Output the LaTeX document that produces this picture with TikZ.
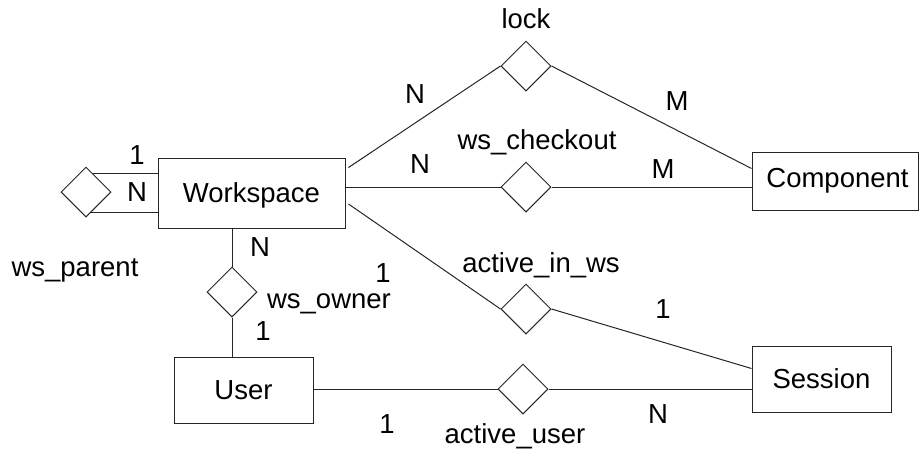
\documentclass[tikz,border=0pt]{standalone}
\usepackage{fontspec}
\setmainfont{Liberation Sans}
\usetikzlibrary{shapes.geometric,calc}
\begin{document}
\begin{tikzpicture}[x=1pt,y=-1pt,
  every node/.style={font=\fontsize{27.5}{32}\selectfont},
  entity/.style={draw=black!85, line width=1pt, rectangle, inner sep=0pt,
    text height=19.7pt, text depth=0pt},
  relation/.style={draw=black!85, line width=1pt, diamond, inner sep=0pt,
    minimum width=50pt, minimum height=50pt},
  lbl/.style={anchor=base, inner sep=0pt},
  conn/.style={draw=black!85, line width=1pt}]
\useasboundingbox (0,0) rectangle (922,451);

% entities
\node[entity, minimum width=187pt, minimum height=70pt] (ws) at (251.5,193) {Workspace};
\node[entity, minimum width=166pt, minimum height=58pt, text depth=6pt] (comp) at (835,181) {\hspace{5pt}Component};
\node[entity, minimum width=139pt, minimum height=66pt] (sess) at (821.5,379) {Session};
\node[entity, minimum width=139pt, minimum height=66pt] (user) at (243.5,390) {User};

% relationships
\node[relation] (parent) at (86,192) {};
\node[relation] (owner) at (232,292) {};
\node[relation] (lock) at (526,66) {};
\node[relation] (checkout) at (526,187) {};
\node[relation] (inws) at (526,309) {};
\node[relation] (auser) at (523,389) {};

% ws_parent (recursive)
\coordinate (pu) at ($(parent.north)!0.28!(parent.east)$);
\coordinate (pl) at ($(parent.south)!0.2!(parent.east)$);
\draw[conn] (pu) -- (pu -| ws.west);
\draw[conn] (pl) -- (pl -| ws.west);

% ws_owner
\draw[conn] (owner.north |- ws.south) -- (owner.north);
\draw[conn] (owner.south) -- (owner.south |- user.north);

% lock
\draw[conn] ($(ws.north east)+(3,10)$) -- (lock.west);
\draw[conn] (lock.east) -- ($(comp.north west)+(0,17)$);

% ws_checkout
\draw[conn] (checkout.west -| ws.east) -- (checkout.west);
\draw[conn] (checkout.east) -- (checkout.east -| comp.west);

% active_in_ws
\draw[conn] ($(ws.east)+(3,11)$) -- (inws.west);
\draw[conn] (inws.east) -- ($(sess.north west)+(0,23)$);

% active_user
\draw[conn] (auser.west -| user.east) -- (auser.west);
\draw[conn] (auser.east) -- (auser.east -| sess.west);

% labels
\node[lbl] (l1) at (137,164) {1};
\node[lbl] (l2) at (137,201) {N};
\node[lbl] (l3) at (75,276) {ws\_parent};
\node[lbl] (l4) at (260,256) {N};
\node[lbl] (l5) at (329,308) {ws\_owner};
\node[lbl] (l6) at (263,340) {1};
\node[lbl] (l7) at (526,28) {lock};
\node[lbl] (l8) at (415,103) {N};
\node[lbl] (l9) at (677,110) {M};
\node[lbl] (l10) at (537,149) {ws\_checkout};
\node[lbl] (l11) at (420,173) {N};
\node[lbl] (l12) at (663,178) {M};
\node[lbl] (l13) at (541,272) {active\_in\_ws};
\node[lbl] (l14) at (383,282) {1};
\node[lbl] (l15) at (663,318) {1};
\node[lbl] (l16) at (658,423) {N};
\node[lbl] (l17) at (387,433) {1};
\node[lbl] (l18) at (515,443) {active\_user};
\end{tikzpicture}
\end{document}
